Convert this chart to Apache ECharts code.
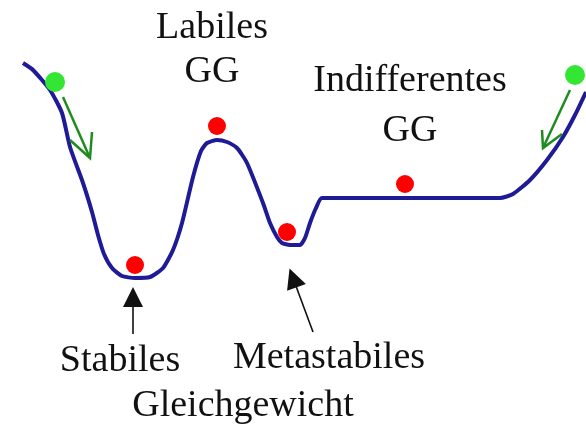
<!DOCTYPE html>
<html><head><meta charset="utf-8">
<script src="https://cdn.jsdelivr.net/npm/echarts@6/dist/echarts.min.js"></script>
<style>html,body{margin:0;padding:0;background:#fff}#c{width:586px;height:428px}</style>
</head><body><div id="c"></div>
<script>
// Energy landscape curve (x position, height measured downward)
const curveX = [23,33,50,62,70,83,92,98,104,112,122,135,150,163,173,182,193,201,207,217,227,237,247,263,270,277,282,290,300,305,310,316,322,500,513,530,547,563,575,586];
const curveY = [63,70,90,113,147,183,212,235,254,268,276,278,277,268,250,223,177,151,143,140,142,148,163,203,223,237,243,245,245,238,223,208,198,198,194,180,160,137,115,92];
// Equilibrium balls (red)
const redX = [135,217,287,405];
const redY = [265,126,232,184];
// Rolling balls (green)
const greenX = [55,575];
const greenY = [82,75];
// Green arrows: shaft start/end, head arm points
const greenShafts = [[[63,97],[90,158]], [[570,90],[543,148]]];
const greenHeads = [[[70,140],[90,158],[92,132]], [[542,130],[543,148],[562,134]]];
// Black pointer arrows
const blackArrows = [[[133,334],[133,297]], [[313,332],[293,278]]];
// Labels
const labels = [
  {text:'Labiles\nGG', x:212, y:50, lh:44},
  {text:'Indifferentes\nGG', x:410, y:106, lh:50},
  {text:'Stabiles', x:120, y:361, lh:46},
  {text:'Metastabiles', x:329, y:358, lh:46},
  {text:'Gleichgewicht', x:243, y:406, lh:46}
];

const chart = echarts.init(document.getElementById('c'));
const curve = curveX.map((x,i)=>[x,curveY[i]]);
chart.setOption({
  animation:false,
  backgroundColor:'#fff',
  grid:{left:0,right:0,top:0,bottom:0},
  xAxis:{type:'value',min:0,max:586,show:false},
  yAxis:{type:'value',min:0,max:428,inverse:true,show:false},
  series:[
    {type:'line',data:curve,smooth:0.2,symbol:'none',lineStyle:{color:'#1f1a96',width:4},z:2},
    {type:'scatter',data:redX.map((x,i)=>[x,redY[i]]),symbolSize:18,itemStyle:{color:'#ff0000',opacity:1},z:3},
    {type:'scatter',data:greenX.map((x,i)=>[x,greenY[i]]),symbolSize:20,itemStyle:{color:'#33e633',opacity:1},z:3},
    {type:'lines',coordinateSystem:'cartesian2d',polyline:true,
      data:greenShafts.concat(greenHeads).map(c=>({coords:c})),
      lineStyle:{color:'#1e8c1e',width:2.5,opacity:1},z:4},
    {type:'lines',coordinateSystem:'cartesian2d',
      data:blackArrows.map(c=>({coords:c})),
      symbol:['none','triangle'],symbolSize:[16,20],
      lineStyle:{color:'#111',width:1.6,opacity:1},z:4}
  ],
  graphic: labels.map(l=>({
    type:'text',x:l.x,y:l.y,
    style:{text:l.text,font:'38px "Liberation Serif"',fill:'#111',align:'center',verticalAlign:'middle',lineHeight:l.lh}
  }))
});
</script></body></html>
